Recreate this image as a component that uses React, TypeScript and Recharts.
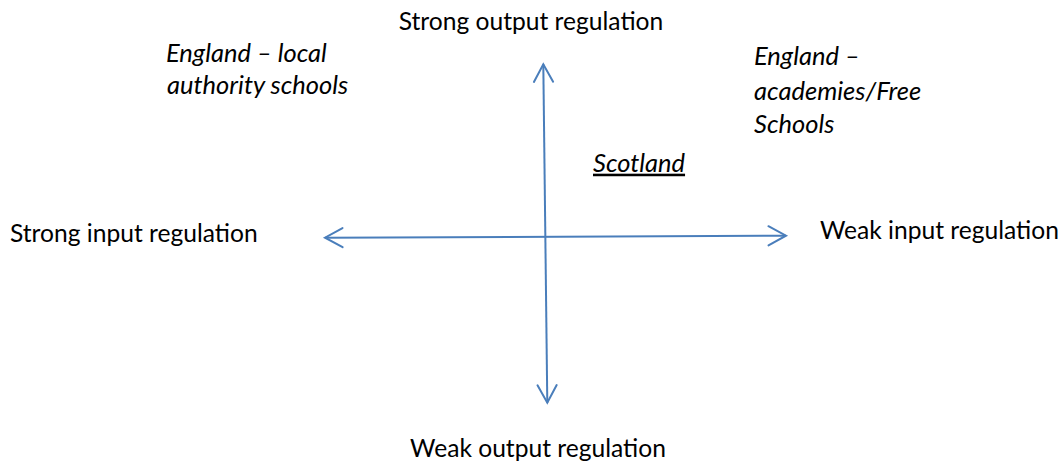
import React from 'react';
import { ComposedChart, Line, Scatter, XAxis, YAxis } from 'recharts';

const W = 1063;
const H = 466;

// Axis arrows: endpoints in diagram coordinates (x to the right, y downward)
const inputRegulationAxis = [
  { x: 325, y: 237.7 },
  { x: 786, y: 235.7 },
];
const outputRegulationAxis = [
  { x: 543.3, y: 64.3 },
  { x: 547.3, y: 402.7 },
];

// Pole labels of the two axes
const poleLabels = [
  'Strong output regulation',
  'Weak output regulation',
  'Strong input regulation',
  'Weak input regulation',
];
const poleLabelX = [531, 538, 10, 820];
const poleLabelY = [30, 457, 241.5, 239];
const poleLabelAnchor = ['middle', 'middle', 'start', 'start'];

// School systems placed in the quadrants (one entry per text line)
const systemLines = [
  'England – local',
  'authority schools',
  'England –',
  'academies/Free',
  'Schools',
  'Scotland',
];
const systemLineX = [166, 167, 754, 754, 754, 593];
const systemLineY = [61.7, 93.5, 65, 100, 132.7, 171.7];
const systemUnderlined = [false, false, false, false, false, true];

const ARROW_COLOR = '#4A7EBB';
const FONT = 'Lato, "Open Sans", sans-serif';
const POLE_FONT_SIZE = 24.6;
const SYSTEM_FONT_SIZE = 25.5;

const poleData = poleLabels.map((text, i) => ({
  x: poleLabelX[i],
  y: poleLabelY[i],
  text,
  anchor: poleLabelAnchor[i],
  italic: false,
  underline: false,
}));

const systemData = systemLines.map((text, i) => ({
  x: systemLineX[i],
  y: systemLineY[i],
  text,
  anchor: 'start',
  italic: true,
  underline: systemUnderlined[i],
}));

const makeArrowDot = (pts: { x: number; y: number }[]) => (props: any) => {
  const { cx, cy, index } = props;
  if (cx == null || cy == null) return <g key={`e${index}`} />;
  const self = pts[index];
  const other = pts[1 - index];
  const ang = Math.atan2(self.y - other.y, self.x - other.x);
  const len = 20;
  const spread = 0.5;
  const a1 = ang + Math.PI - spread;
  const a2 = ang + Math.PI + spread;
  const d = `M${cx + len * Math.cos(a1)},${cy + len * Math.sin(a1)} L${cx},${cy} L${cx + len * Math.cos(a2)},${cy + len * Math.sin(a2)}`;
  return (
    <path
      key={`h${index}`}
      d={d}
      fill="none"
      stroke={ARROW_COLOR}
      strokeWidth={2}
      strokeLinecap="round"
      strokeLinejoin="miter"
    />
  );
};

const renderLabel = (props: any) => {
  const { cx, cy, payload } = props;
  if (cx == null || cy == null || !payload) return <g />;
  return (
    <text
      x={cx}
      y={cy}
      textAnchor={payload.anchor}
      fontFamily={FONT}
      fontSize={payload.italic ? SYSTEM_FONT_SIZE : POLE_FONT_SIZE}
      fontStyle={payload.italic ? 'italic' : 'normal'}
      textDecoration={payload.underline ? 'underline' : 'none'}
      fill="#000"
    >
      {payload.text}
    </text>
  );
};

export default function App() {
  return (
    <div style={{ position: 'absolute', left: 0, top: 0, width: W, height: H, background: '#fff' }}>
      <ComposedChart width={W} height={H} margin={{ top: 0, right: 0, bottom: 0, left: 0 }}>
        <XAxis type="number" dataKey="x" domain={[0, W]} hide allowDataOverflow />
        <YAxis type="number" dataKey="y" domain={[0, H]} reversed hide allowDataOverflow />
        <Line
          data={inputRegulationAxis}
          dataKey="y"
          type="linear"
          stroke={ARROW_COLOR}
          strokeWidth={2}
          dot={makeArrowDot(inputRegulationAxis)}
          activeDot={false}
          isAnimationActive={false}
        />
        <Line
          data={outputRegulationAxis}
          dataKey="y"
          type="linear"
          stroke={ARROW_COLOR}
          strokeWidth={2}
          dot={makeArrowDot(outputRegulationAxis)}
          activeDot={false}
          isAnimationActive={false}
        />
        <Scatter data={poleData} dataKey="y" shape={renderLabel} isAnimationActive={false} />
        <Scatter data={systemData} dataKey="y" shape={renderLabel} isAnimationActive={false} />
      </ComposedChart>
    </div>
  );
}
